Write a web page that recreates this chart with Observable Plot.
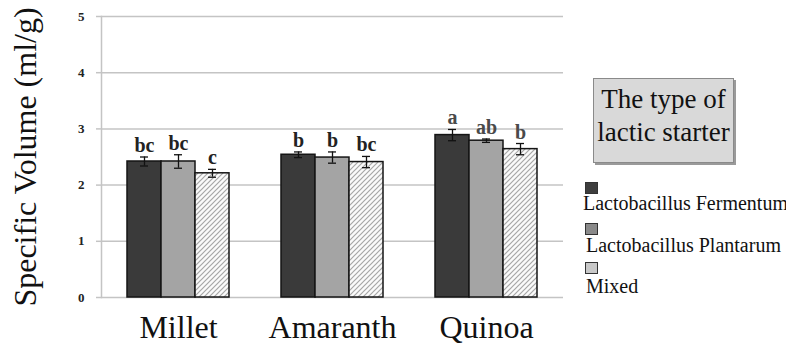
<!DOCTYPE html>
<html><head><meta charset="utf-8">
<script src="https://cdn.jsdelivr.net/npm/d3@7"></script>
<script src="https://cdn.jsdelivr.net/npm/@observablehq/plot@0.6"></script>
<style>
body{margin:0;background:#fff;}
#wrap{position:relative;width:786px;height:345px;overflow:hidden;font-family:'Liberation Serif','DejaVu Serif',serif;color:#111;}
#chart{position:absolute;left:0;top:0;}
#legbox{position:absolute;left:593px;top:78px;width:139px;height:79px;padding-top:4px;background:#d9d9d9;border:1px solid #8a8a8a;box-shadow:2px 2px 0 #9a9a9a;font-size:27px;line-height:33px;text-align:center;}
.sw{position:absolute;left:585px;width:11px;height:10px;border:1px solid #333;}
.lt{position:absolute;font-size:20px;line-height:20px;white-space:nowrap;}
</style>
</head><body>
<div id="wrap"><div id="chart"></div></div>
<script>
const grains = ["Millet", "Amaranth", "Quinoa"];
const starters = ["Lactobacillus Fermentum", "Lactobacillus Plantarum", "Mixed"];
const fermentum = [2.42, 2.54, 2.89];
const fermentumErr = [0.08, 0.05, 0.1];
const fermentumLetters = ["bc", "b", "a"];
const plantarum = [2.42, 2.49, 2.79];
const plantarumErr = [0.12, 0.1, 0.03];
const plantarumLetters = ["bc", "b", "ab"];
const mixed = [2.21, 2.41, 2.64];
const mixedErr = [0.07, 0.1, 0.1];
const mixedLetters = ["c", "bc", "b"];
const yTicks = [0, 1, 2, 3, 4, 5];
const legendTitle = ["The type of", "lactic starter"];
const letterColors = {Millet: "#222", Amaranth: "#222", Quinoa: "#4a4a4a"};

const values = [fermentum, plantarum, mixed];
const errs = [fermentumErr, plantarumErr, mixedErr];
const letters = [fermentumLetters, plantarumLetters, mixedLetters];
const fills = ["#3a3a3a", "#a4a4a4", "url(#hatch)"];
const serif = "'Liberation Serif','DejaVu Serif',serif";

const data = grains.flatMap((g, i) => starters.map((s, j) => ({
  grain: g, starter: s, value: values[j][i], err: errs[j][i], letter: letters[j][i]
})));

const plot = Plot.plot({
  width: 590,
  height: 345,
  marginLeft: 100,
  marginRight: 27,
  marginTop: 16,
  marginBottom: 48,
  style: {fontFamily: serif, color: "#111", background: "transparent"},
  fx: {domain: grains, padding: 0, axis: null},
  x: {domain: starters, paddingInner: 0, paddingOuter: 0.72, axis: null},
  y: {domain: [0, 5], axis: null},
  color: {domain: starters, range: fills},
  marks: [
    Plot.gridY(yTicks, {stroke: "#c4c4c4", strokeOpacity: 1, strokeWidth: 1.5}),
    Plot.frame({anchor: "left", facetAnchor: "left", stroke: "#c4c4c4", strokeWidth: 1.5}),
    Plot.axisY({ticks: yTicks, tickFormat: d => String(d), tickSize: 5, tickPadding: 12, stroke: "#c4c4c4", strokeWidth: 1.5, fontSize: 13, fontWeight: "bold", fill: "#222", label: null}),
    Plot.axisY({ticks: [], label: "Specific Volume (ml/g)", labelAnchor: "center", labelArrow: "none", labelOffset: 88, fontSize: 32}),
    Plot.axisFx({anchor: "bottom", tickSize: 0, tickPadding: 18, fontSize: 32, label: null}),
    Plot.barY(data, {fx: "grain", x: "starter", y: "value", fill: "starter", stroke: "#151515", strokeWidth: 1.5}),
    Plot.ruleX(data, {fx: "grain", x: "starter", y1: d => d.value - d.err, y2: d => d.value + d.err, stroke: "#111", strokeWidth: 1.3}),
    Plot.tickY(data, {fx: "grain", x: "starter", y: d => d.value + d.err, insetLeft: 13, insetRight: 13, stroke: "#111", strokeWidth: 1.3}),
    Plot.tickY(data, {fx: "grain", x: "starter", y: d => d.value - d.err, insetLeft: 13, insetRight: 13, stroke: "#111", strokeWidth: 1.3}),
    Plot.text(data, {fx: "grain", x: "starter", y: d => d.value + d.err, text: "letter", dy: -5, lineAnchor: "bottom", fontWeight: "bold", fontSize: 20, fill: d => letterColors[d.grain]})
  ]
});

const defs = d3.select(plot).insert("defs", ":first-child");
const pat = defs.append("pattern").attr("id", "hatch").attr("patternUnits", "userSpaceOnUse").attr("width", 5).attr("height", 5);
pat.append("rect").attr("width", 5).attr("height", 5).attr("fill", "#fafafa");
pat.append("path").attr("d", "M-1,1 l2,-2 M0,5 l5,-5 M4,6 l2,-2").attr("stroke", "#a6a6a6").attr("stroke-width", 1.2);

document.getElementById("chart").appendChild(plot);

const wrap = document.getElementById("wrap");
const box = document.createElement("div");
box.id = "legbox";
box.innerHTML = legendTitle.join("<br>");
wrap.appendChild(box);

const swStyles = ["background:#3e3e3e", "background:#8a8a8a", "background:#c8c8c8"];
const swTops = [182, 223, 262];
const txtPos = [[583, 193], [586, 235], [586, 276]];
starters.forEach((s, j) => {
  const sw = document.createElement("div");
  sw.className = "sw";
  sw.style.cssText = swStyles[j] + ";top:" + swTops[j] + "px";
  wrap.appendChild(sw);
  const t = document.createElement("div");
  t.className = "lt";
  t.style.left = txtPos[j][0] + "px";
  t.style.top = txtPos[j][1] + "px";
  t.textContent = s;
  wrap.appendChild(t);
});
</script>
</body></html>
